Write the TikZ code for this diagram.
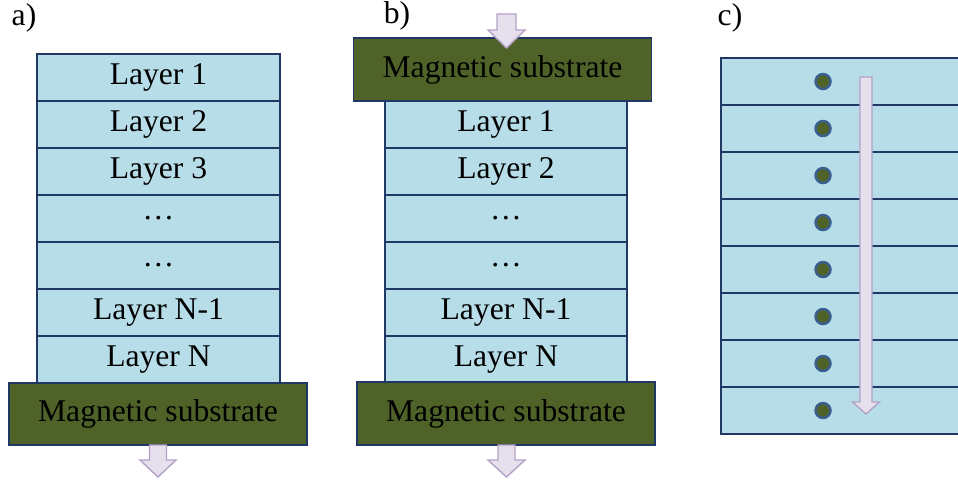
\documentclass[tikz,border=0pt]{standalone}
\usepackage{fontspec}
\setmainfont{Liberation Serif}
\usepackage{xcolor}
\definecolor{layerfill}{HTML}{B7DEE8}
\definecolor{edgeblue}{HTML}{1F3864}
\definecolor{substrate}{HTML}{4F6228}
\definecolor{arrowfill}{HTML}{E6E0EC}
\definecolor{arrowline}{HTML}{B3A2C7}
\definecolor{dotline}{HTML}{3A5F8F}
\usepackage{tikz}

\tikzset{
  layer/.style={draw=edgeblue, fill=layerfill, line width=1.1pt, inner sep=0pt,
    minimum width=4.85cm, minimum height=0.94cm},
  magsub/.style={draw=edgeblue, fill=substrate, line width=1.1pt, inner sep=0pt,
    minimum width=5.96cm, minimum height=1.25cm},
  spin/.style={circle, draw=dotline, fill=substrate, line width=1.4pt, inner sep=0pt,
    minimum size=0.3cm},
  fatarrow/.style={draw=arrowline, fill=arrowfill, line width=0.8pt, line join=miter}
}

% cx, top, head start, tip, half shaft, half head
\newcommand{\blockarrow}[6]{%
  \draw[fatarrow] (#1-#5,#2) -- (#1+#5,#2) -- (#1+#5,#3) -- (#1+#6,#3)
    -- (#1,#4) -- (#1-#6,#3) -- (#1-#5,#3) -- cycle;}

\begin{document}
\begin{tikzpicture}[x=0.02cm, y=-0.02cm, font=\fontsize{18}{21}\selectfont]
            \clip (0, 0) rectangle (958, 481);

            % a)
            \node (la) at (24, 18) {a)};
            \foreach \name [count=\i] in {Layer 1, Layer 2, Layer 3, …, …, Layer N-1, Layer N}
                \node[layer] (a\i) at (158.5, {30.5+47*\i}) {\name};
            \node[magsub] (sa) at (158, 414) {Magnetic substrate};
            \blockarrow{158}{445}{460}{477}{8.5}{18}

            % b)
            \node (lb) at (397, 16) {b)};
            \node[magsub] (sbt) at (502.5, 69.5) {Magnetic substrate};
            \foreach \name [count=\i] in {Layer 1, Layer 2, …, …, Layer N-1, Layer N}
                \node[layer] (b\i) at (506, {77.5+47*\i}) {\name};
            \node[magsub] (sbb) at (506, 413.5) {Magnetic substrate};
            \blockarrow{506.5}{14}{30}{48}{9.5}{18.5}
            \blockarrow{506.5}{445}{460}{477}{8.5}{18.5}

            % c)
            \node (lc) at (730, 18) {c)};
            \foreach \i in {1,...,8} {
                \node[layer, minimum width=5.6cm] (c\i) at (861, {34.5+47*\i}) {};
                \node[spin] (d\i) at (823, {34.5+47*\i}) {};
            }
            \blockarrow{866}{77}{402}{414}{6}{13.5}
        \end{tikzpicture}
\end{document}
